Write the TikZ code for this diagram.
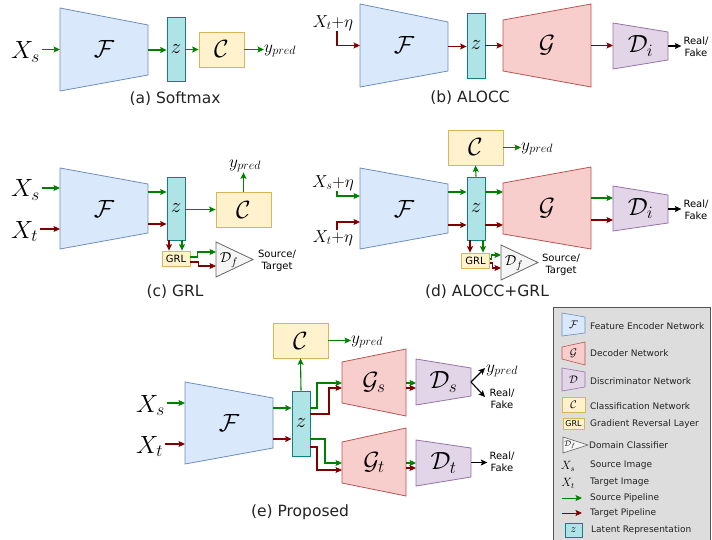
\documentclass[tikz,border=0pt]{standalone}
\usepackage[no-math]{fontspec}
\newfontfamily\dvs{DejaVu Sans}
\usetikzlibrary{arrows.meta}
\definecolor{blueF}{HTML}{DAE8FC}\definecolor{blueD}{HTML}{6C8EBF}
\definecolor{tealF}{HTML}{B0E3E6}\definecolor{tealD}{HTML}{0E8088}
\definecolor{yelF}{HTML}{FFF2CC}\definecolor{yelD}{HTML}{D6B656}
\definecolor{redF}{HTML}{F8CECC}\definecolor{redD}{HTML}{B85450}
\definecolor{purF}{HTML}{E1D5E7}\definecolor{purD}{HTML}{9673A6}
\definecolor{grayF}{HTML}{F5F5F5}\definecolor{grayD}{HTML}{666666}
\definecolor{srcC}{HTML}{008000}\definecolor{tgtC}{HTML}{800000}
\definecolor{legF}{HTML}{DDDDDD}\definecolor{legD}{HTML}{555555}
\definecolor{capC}{HTML}{222222}
\newcommand\mytrap[8]{%
  \draw[#1] (#3,#5) -- (#4,#7) -- (#4,#8) -- (#3,#6) -- cycle;
  \coordinate (#2-l) at (#3,{(#5+#6)/2});
  \coordinate (#2-r) at (#4,{(#7+#8)/2});
  \coordinate (#2-c) at ({(#3+#4)/2},{(#5+#6)/2});}
\tikzset{
  shp/.style={line width=0.8pt},
  enc/.style={shp,draw=blueD,fill=blueF},
  dec/.style={shp,draw=redD,fill=redF},
  disc/.style={shp,draw=purD,fill=purF},
  dom/.style={shp,draw=grayD,fill=grayF},
  latent/.style={shp,draw=tealD,fill=tealF,inner sep=0,minimum width=18pt,font=\fontsize{20}{20}\selectfont},
  clsbox/.style={shp,draw=yelD,fill=yelF,inner sep=0,minimum width=55pt,minimum height=35pt,font=\fontsize{27}{27}\selectfont},
  grlbox/.style={shp,draw=yelD,fill=yelF,inner sep=0,minimum width=28pt,minimum height=15pt,font=\dvs\fontsize{10}{10}\selectfont},
  arr/.style={line width=1.1pt,-{Stealth[length=6.5pt,width=6pt,inset=1.3pt]}},
  garr/.style={arr,color=srcC},
  rarr/.style={arr,color=tgtC},
  karr/.style={arr,color=black},
  captxt/.style={font=\dvs\fontsize{15.5}{18}\selectfont,text=capC,inner sep=0},
  small/.style={font=\dvs\fontsize{10}{11.5}\selectfont,align=center,inner sep=0},
  legtxt/.style={font=\dvs\fontsize{9}{10}\selectfont,anchor=west,inner sep=0,text=capC},
  bigX/.style={font=\fontsize{27}{28}\selectfont,inner sep=0,anchor=base west},
  mathlbl/.style={font=\fontsize{25}{26}\selectfont,inner sep=0},
  dflbl/.style={font=\fontsize{15}{15}\selectfont,inner sep=0},
  ylbl/.style={font=\fontsize{17}{18}\selectfont,inner sep=0},
  noisy/.style={font=\fontsize{18}{20}\selectfont,inner sep=0},
  legmath/.style={font=\fontsize{11}{11}\selectfont,inner sep=0},
}
\begin{document}
\begin{tikzpicture}[x=1pt,y=-1pt]
\useasboundingbox (0,0) rectangle (712,540);
% ---------------- (a) Softmax
\node[bigX] (xsA) at (11,59) {$X_s$};
\mytrap{enc}{FA}{60}{148}{8}{91}{25}{75}
\node[mathlbl] (fA) at (FA-c) {$\mathcal F$};
\node[latent,minimum height=64pt] (zA) at (176,49.5) {$z$};
\node[clsbox,minimum width=45pt] (CA) at (221.5,49.5) {$\mathcal C$};
\node[ylbl,anchor=west] (yA) at (264,51) {$y_{pred}$};
\draw[garr] ([xshift=2pt]xsA.east |- FA-l) -- (FA-l);
\draw[garr] (FA-r) -- (FA-r -| zA.west);
\draw[garr] (zA.east) -- (CA.west);
\draw[garr] (CA.east) -- (CA.east -| yA.west);
\node[captxt] (capA) at (175,99) {(a) Softmax};
% ---------------- (b) ALOCC
\node[noisy] (xB) at (333,23) {$X_t{+}\eta$};
\mytrap{enc}{FB}{360}{448}{4}{87}{22}{71}
\node[mathlbl] (fB) at (FB-c) {$\mathcal F$};
\node[latent,minimum height=65pt] (zB) at (476,45.5) {$z$};
\mytrap{dec}{GB}{503}{591}{20}{71}{4}{87}
\node[mathlbl] (gB) at (GB-c) {$\mathcal G$};
\mytrap{disc}{DB}{613}{668}{23}{69}{32}{60}
\node[mathlbl] (dB) at (DB-c) {$\mathcal D_i$};
\node[small] (rfB) at (696,47) {Real/\\Fake};
\draw[rarr] ([xshift=4pt]xB.south) |- (FB-l);
\draw[rarr] (FB-r) -- (FB-r -| zB.west);
\draw[rarr] (zB.east) -- (zB.east -| GB-l);
\draw[rarr] (GB-r) -- (GB-r -| DB-l);
\draw[karr] (DB-r) -- ([xshift=-2pt]DB-r -| rfB.west);
\node[captxt] (capB) at (470,98) {(b) ALOCC};
% ---------------- (c) GRL
\node[bigX] (xsC) at (11,197) {$X_s$};
\node[bigX] (xtC) at (11,238) {$X_t$};
\mytrap{enc}{FC}{60}{148}{168}{249}{184}{233}
\node[mathlbl] (fC) at (FC-c) {$\mathcal F$};
\node[latent,minimum height=63pt] (zC) at (176,208.5) {$z$};
\node[clsbox] (CC) at (243.5,209.5) {$\mathcal C$};
\node[ylbl] (yC) at (245,166) {$y_{pred}$};
\node[grlbox] (grlC) at (176,258.5) {GRL};
\draw[dom] (216,242) -- (253,259.5) -- (216,277) -- cycle;
\coordinate (DfC-l) at (216,259.5);
\node[dflbl] (dfC) at (229,260) {$\mathcal D_f$};
\node[small] (stC) at (277,261) {Source/\\Target};
\draw[garr] ([xshift=2pt]xsC.east |- 0,188) -- (FC-l |- 0,188);
\draw[rarr] ([xshift=2pt]xtC.east |- 0,229) -- (FC-l |- 0,229);
\draw[garr] (FC-r |- 0,192) -- (zC.west |- 0,192);
\draw[rarr] (FC-r |- 0,224) -- (zC.west |- 0,224);
\draw[garr] (zC.east |- CC.west) -- (CC.west);
\draw[garr] (CC.north) -- (CC.north |- yC.south);
\draw[rarr] (zC.south -| 169,0) -- (grlC.north -| 169,0);
\draw[garr] (zC.south -| 182,0) -- (grlC.north -| 182,0);
\draw[garr] (grlC.east |- 0,257) -- ++(7,0) |- (DfC-l |- 0,252);
\draw[rarr] (grlC.east |- 0,262) -- ++(8,0) |- (DfC-l |- 0,266);
\node[captxt] (capC) at (175,292) {(c) GRL};
% ---------------- (d) ALOCC+GRL
\node[clsbox] (CD) at (475.5,147.5) {$\mathcal C$};
\node[ylbl,anchor=west] (yD) at (521,149) {$y_{pred}$};
\node[noisy] (xsD) at (333,183) {$X_s{+}\eta$};
\node[noisy] (xtD) at (333,238) {$X_t{+}\eta$};
\mytrap{enc}{FD}{360}{448}{168}{249}{184}{233}
\node[mathlbl] (fD) at (FD-c) {$\mathcal F$};
\node[latent,minimum height=63pt] (zD) at (476,208.5) {$z$};
\mytrap{dec}{GD}{503}{591}{183}{234}{167}{249}
\node[mathlbl] (gD) at (GD-c) {$\mathcal G$};
\mytrap{disc}{DD}{613}{668}{186}{231}{195}{223}
\node[mathlbl] (dD) at (DD-c) {$\mathcal D_i$};
\node[small] (rfD) at (696,210) {Real/\\Fake};
\node[grlbox] (grlD) at (475.5,260.5) {GRL};
\draw[dom] (501,245) -- (538,262.5) -- (501,280) -- cycle;
\coordinate (DfD-l) at (501,262.5);
\node[dflbl] (dfD) at (514,263) {$\mathcal D_f$};
\node[small] (stD) at (561,265) {Source/\\Target};
\draw[garr] ([xshift=4pt]xsD.south) |- (FD-l |- 0,196);
\draw[rarr] ([xshift=4pt]xtD.north) |- (FD-l |- 0,222);
\draw[garr] (FD-r |- 0,192) -- (zD.west |- 0,192);
\draw[rarr] (FD-r |- 0,225) -- (zD.west |- 0,225);
\draw[garr] (zD.north) -- (CD.south);
\draw[garr] (CD.east) -- (CD.east -| yD.west);
\draw[garr] (zD.east |- 0,192) -- (GD-l |- 0,192);
\draw[rarr] (zD.east |- 0,225) -- (GD-l |- 0,225);
\draw[garr] (GD-r |- 0,198) -- (DD-l |- 0,198);
\draw[rarr] (GD-r |- 0,220) -- (DD-l |- 0,220);
\draw[karr] (DD-r) -- ([xshift=-2pt]DD-r -| rfD.west);
\draw[rarr] (zD.south -| 470,0) -- (grlD.north -| 470,0);
\draw[garr] (zD.south -| 483,0) -- (grlD.north -| 483,0);
\draw[garr] (grlD.east |- 0,259) -- ++(2,0) |- (DfD-l |- 0,255);
\draw[rarr] (grlD.east |- 0,263) -- ++(3,0) |- (DfD-l |- 0,268);
\node[captxt] (capD) at (487,292) {(d) ALOCC+GRL};
% ---------------- (e) Proposed
\node[clsbox] (CE) at (300.5,340.5) {$\mathcal C$};
\node[ylbl,anchor=west] (yE) at (351,342) {$y_{pred}$};
\node[bigX] (xsE) at (136,412) {$X_s$};
\node[bigX] (xtE) at (136,453) {$X_t$};
\mytrap{enc}{FE}{185}{273}{382}{464}{398}{448}
\node[mathlbl] (fE) at (FE-c) {$\mathcal F$};
\node[latent,minimum height=65pt] (zE) at (301,423.5) {$z$};
\mytrap{dec}{GsE}{342}{406}{362}{403}{349}{416}
\node[mathlbl] (gsE) at (GsE-c) {$\mathcal G_s$};
\mytrap{dec}{GtE}{342}{406}{442}{483}{428}{496}
\node[mathlbl] (gtE) at (GtE-c) {$\mathcal G_t$};
\mytrap{disc}{DsE}{416}{471}{359}{405}{368}{396}
\node[mathlbl] (dsE) at (DsE-c) {$\mathcal D_s$};
\mytrap{disc}{DtE}{416}{471}{440}{486}{448}{477}
\node[mathlbl] (dtE) at (DtE-c) {$\mathcal D_t$};
\node[ylbl,anchor=west] (ysE) at (486,371) {$y_{pred}$};
\node[small] (rfsE) at (502,399) {Real/\\Fake};
\node[small] (rftE) at (502,462) {Real/\\Fake};
\coordinate (tipY) at (485,368);
\coordinate (tipR) at (485,397);
\draw[garr] ([xshift=2pt]xsE.east |- 0,403) -- (FE-l |- 0,403);
\draw[rarr] ([xshift=2pt]xtE.east |- 0,444) -- (FE-l |- 0,444);
\draw[garr] (FE-r |- 0,408) -- (zE.west |- 0,408);
\draw[rarr] (FE-r |- 0,439) -- (zE.west |- 0,439);
\draw[garr] (zE.north) -- (CE.south);
\draw[garr] (CE.east) -- (CE.east -| yE.west);
\draw[garr] (zE.east |- 0,408) -- (317,408) |- (GsE-l |- 0,383);
\draw[rarr] (zE.east |- 0,414) -- (329,414) |- (GsE-l |- 0,388);
\draw[garr] (zE.east |- 0,439) -- (325,439) |- (GtE-l |- 0,463);
\draw[rarr] (zE.east |- 0,447) -- (317,447) |- (GtE-l |- 0,470);
\draw[garr] (GsE-r |- 0,383) -- (DsE-l |- 0,383);
\draw[rarr] (GsE-r |- 0,388) -- (DsE-l |- 0,388);
\draw[garr] (GtE-r |- 0,463) -- (DtE-l |- 0,463);
\draw[rarr] (GtE-r |- 0,468) -- (DtE-l |- 0,468);
\draw[karr] (DsE-r) -- (tipY);
\draw[karr] (DsE-r) -- (tipR);
\draw[karr] (DtE-r) -- ([xshift=-2pt]DtE-r -| rftE.west);
\node[captxt] (capE) at (300,512) {(e) Proposed};
% ---------------- legend
\draw[fill=legF,draw=legD,line width=0.8pt] (553,307) rectangle (710,545);
\mytrap{enc,line width=0.6pt}{LF}{562}{585}{313}{336}{317}{333}
\node[legmath] (lf) at (LF-c) {$\mathcal F$};
\node[legtxt] (lt1) at (590,326) {Feature Encoder Network};
\mytrap{dec,line width=0.6pt}{LG}{562}{585}{347}{359}{342}{365}
\node[legmath] (lg) at (LG-c) {$\mathcal G$};
\node[legtxt] (lt2) at (590,353) {Decoder Network};
\mytrap{disc,line width=0.6pt}{LD}{562}{585}{368}{391}{372}{387}
\node[legmath] (ld) at (LD-c) {$\mathcal D$};
\node[legtxt] (lt3) at (590,381) {Discriminator Network};
\node[clsbox,line width=0.6pt,minimum width=23pt,minimum height=15pt,font=\fontsize{11}{11}\selectfont] (lc) at (573.5,404.5) {$\mathcal C$};
\node[legtxt] (lt4) at (590,406) {Classification Network};
\node[grlbox,line width=0.6pt,minimum width=21pt,minimum height=11pt,font=\dvs\fontsize{8}{8}\selectfont] (lgrl) at (573.5,423.5) {GRL};
\node[legtxt] (lt5) at (590,424) {Gradient Reversal Layer};
\draw[dom,line width=0.6pt] (563,437) -- (588,445) -- (563,453) -- cycle;
\node[font=\fontsize{8}{8}\selectfont,inner sep=0] (ldf) at (570,445) {$\mathcal D_f$};
\node[legtxt] (lt6) at (589,445) {Domain Classifier};
\node[font=\fontsize{12}{12}\selectfont,inner sep=0] (lxs) at (568,466) {$X_s$};
\node[legtxt] (lt7) at (590,465) {Source Image};
\node[font=\fontsize{12}{12}\selectfont,inner sep=0] (lxt) at (568,483) {$X_t$};
\node[legtxt] (lt8) at (590,482) {Target Image};
\coordinate (lg0) at (562,498); \coordinate (lg1) at (582,498);
\draw[garr,line width=0.8pt] (lg0) -- (lg1);
\node[legtxt] (lt9) at (590,498) {Source Pipeline};
\coordinate (lr0) at (562,513); \coordinate (lr1) at (582,513);
\draw[rarr,line width=0.8pt] (lr0) -- (lr1);
\node[legtxt] (lt10) at (590,513) {Target Pipeline};
\node[latent,line width=0.6pt,minimum width=17pt,minimum height=14pt,font=\fontsize{11}{11}\selectfont] (lz) at (573.5,530) {$z$};
\node[legtxt] (lt11) at (591,530) {Latent Representation};
\end{tikzpicture}
\end{document}
